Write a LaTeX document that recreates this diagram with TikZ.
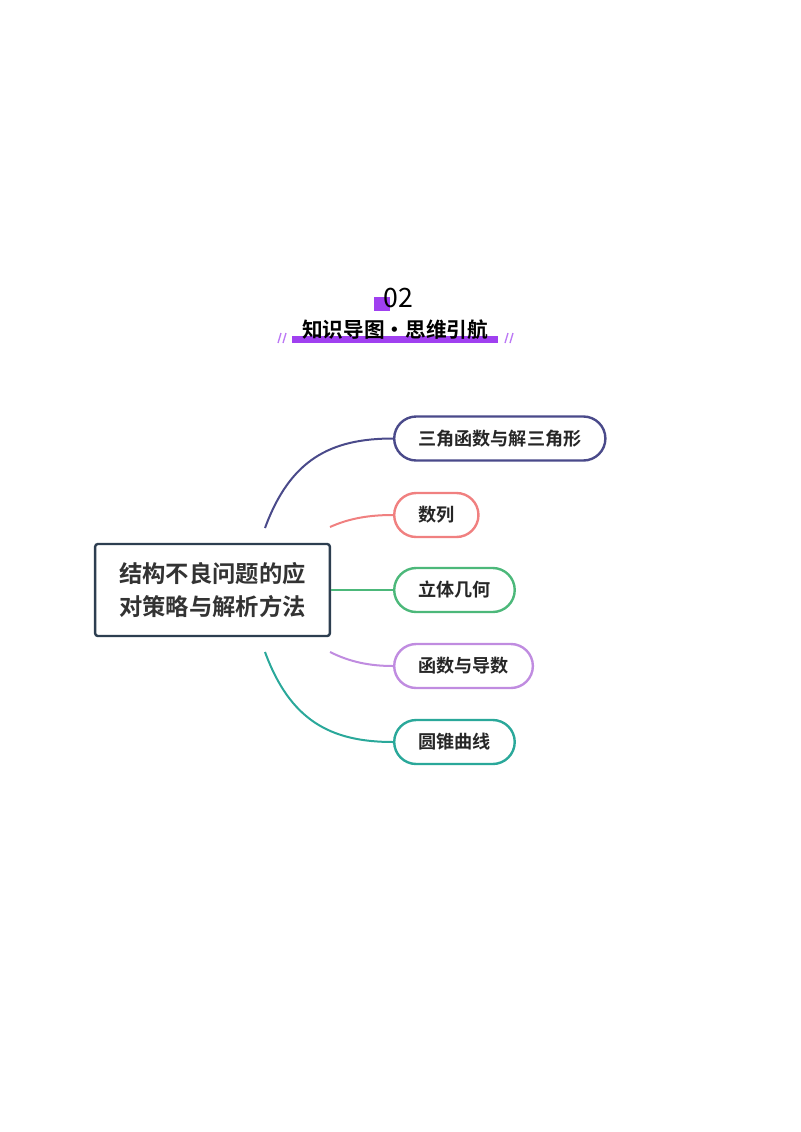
\documentclass[tikz,border=0pt]{standalone}
\usepackage{fontspec}
\setmainfont{Noto Sans CJK SC}
\newfontfamily\cjkb{Noto Sans CJK SC Bold}
\begin{document}
\begin{tikzpicture}[x=0.75pt,y=-0.75pt,
  kid/.style={draw=#1,line width=1.8pt,rounded corners=16.5pt,minimum height=33pt,inner xsep=18pt,font=\cjkb\fontsize{13.6}{15}\selectfont,text=black!85,anchor=west},
  link/.style={draw=#1,line width=1.5pt}]
\useasboundingbox (0,0) rectangle (800,1132);
\definecolor{c1}{HTML}{4A4A8A}\definecolor{c2}{HTML}{F08080}\definecolor{c3}{HTML}{4CB87A}
\definecolor{c4}{HTML}{C08CE0}\definecolor{c5}{HTML}{2AA89A}\definecolor{pu}{HTML}{A040F0}
\definecolor{rt}{HTML}{2D3E50}
% header
\fill[pu] (374,297) rectangle (390,311);
\node[font=\fontsize{20}{22}\selectfont] (num) at (398,298) {02};
\fill[pu] (292,336) rectangle (498,343);
\node[font=\cjkb\fontsize{15.5}{17}\selectfont] (title) at (395,330) {知识导图·思维引航};
\draw[pu!70,line width=1pt] (278,343)--(281,333) (283,343)--(286,333) (505,343)--(508,333) (510,343)--(513,333);
% root
\node[draw=rt,line width=1.8pt,rounded corners=2pt,minimum width=176pt,minimum height=69pt,align=center,font=\cjkb\fontsize{17.5}{25}\selectfont,text=black!80] (root) at (212.5,590) {结构不良问题的应\\对策略与解析方法};
\node[kid=c1] (k1) at (393,438.5) {三角函数与解三角形};
\node[kid=c2] (k2) at (393,515) {数列};
\node[kid=c3] (k3) at (393,590) {立体几何};
\node[kid=c4] (k4) at (393,666) {函数与导数};
\node[kid=c5] (k5) at (393,742) {圆锥曲线};
\coordinate (s1) at (265,528); \coordinate (s2) at (330,527);
\coordinate (s4) at (330,652); \coordinate (s5) at (265,652);
\draw[link=c1] (s1) .. controls (290,460) and (330,438.5) .. (k1.west);
\draw[link=c2] (s2) .. controls (350,518) and (370,515) .. (k2.west);
\draw[link=c3] (root.east) -- (k3.west);
\draw[link=c4] (s4) .. controls (350,662) and (370,666) .. (k4.west);
\draw[link=c5] (s5) .. controls (290,720) and (330,742) .. (k5.west);
\end{tikzpicture}
\end{document}
